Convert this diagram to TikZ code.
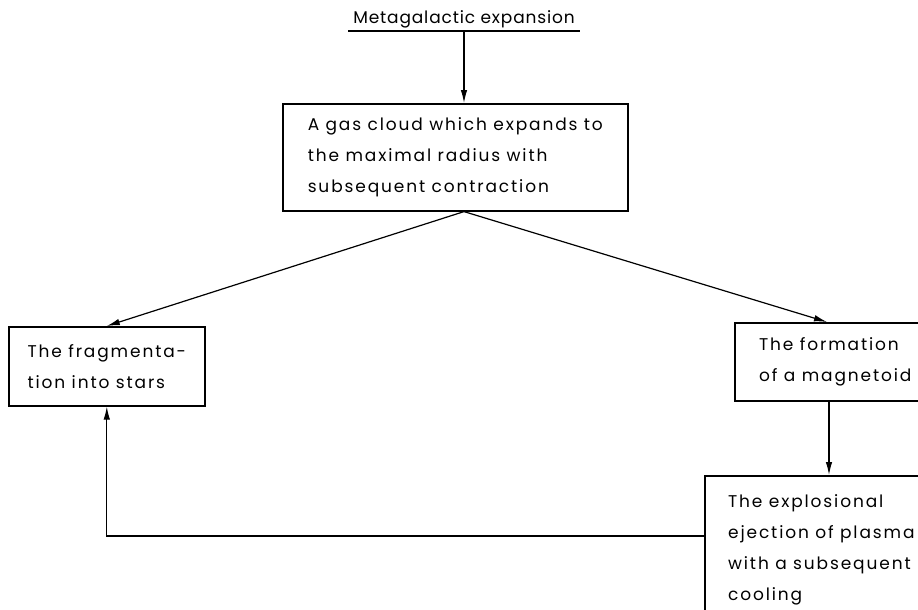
\documentclass[tikz,border=0pt]{standalone}
\usepackage{fontspec}
\setmainfont{Poppins}[LetterSpace=11]
\newfontfamily\headfont{Poppins}[LetterSpace=5]
\usetikzlibrary{arrows.meta}
\usetikzlibrary{shapes}

\begin{document}
\begin{tikzpicture}[x=1pt, y=-1pt,
    txt/.style={font=\fontsize{17}{31}\selectfont},
    box/.style={txt, draw, line width=1.6pt, align=left, inner sep=0pt},
    conn/.style={line width=1.2pt},
    arr/.style={conn, -{Latex[length=13pt,width=6.5pt]}}]

            \useasboundingbox (0,0) rectangle (918,610);
            \clip (0,0) rectangle (918,610);

            \node[txt, font=\headfont\fontsize{17}{31}\selectfont, inner sep=3pt] (meta) at (464,19) {Metagalactic expansion};
            \draw[conn] ([xshift=-2pt]meta.south west) -- ([xshift=2pt]meta.south east);

            \node[box, anchor=north west, minimum width=345, minimum height=107] (cloud) at (282,103)
            {A gas cloud which expands to\\the maximal radius with\\subsequent contraction};

            \node[box, anchor=north west, minimum width=196, minimum height=79] (frag) at (8,326)
            {The fragmenta-\\tion into stars};

            \node[box, anchor=north west, minimum width=201, minimum height=78] (magn) at (734,322)
            {The formation\\of a magnetoid};

            \node[box, anchor=north west, minimum width=233, minimum height=148] (eject) at (704,475)
            {The explosional\\ejection of plasma\\with a subsequent\\cooling};

            \draw[arr] (meta.south) -- (meta.south |- cloud.north);

            \coordinate (split) at (meta.south |- cloud.south);
            \draw[arr] (split) -- (frag.north);
            \draw[arr] (split) -- ([xshift=93pt]magn.north west);

            \draw[arr] ([xshift=95pt]magn.south west) -- ([xshift=95pt]magn.south west |- eject.north);

            \draw[arr] ([yshift=-61pt]eject.north west) -| (frag.south);
        \end{tikzpicture}
\end{document}
